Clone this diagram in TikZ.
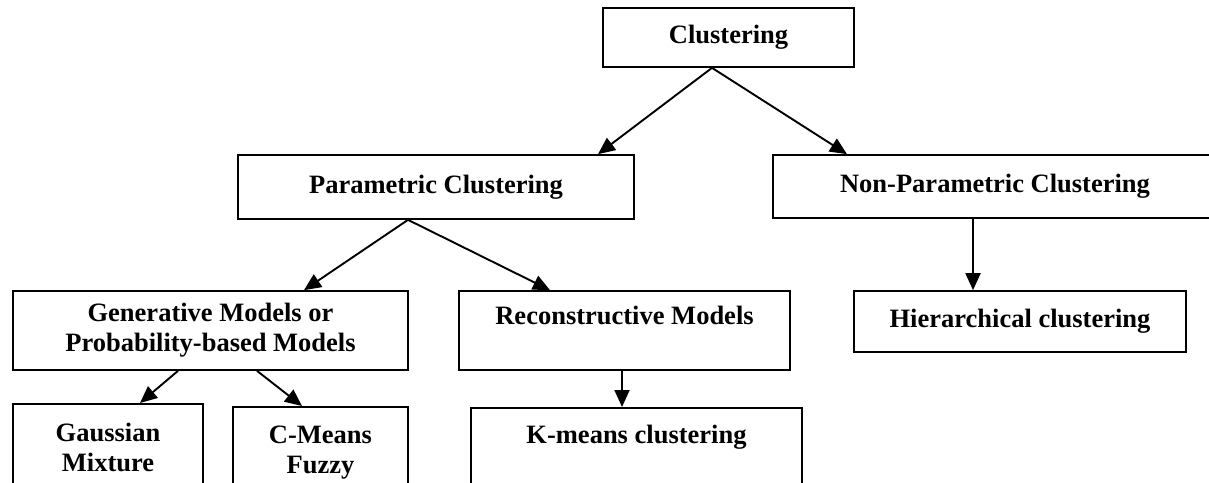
\documentclass[tikz,border=0pt]{standalone}
\usepackage{fontspec}
\setmainfont{Liberation Serif}
\usetikzlibrary{arrows.meta}

\begin{document}
\begin{tikzpicture}[x=1pt,y=-1pt,
    box/.style={draw,line width=1.7pt,align=center,inner xsep=0pt,inner ysep=0pt,
      font=\bfseries\fontsize{26.5}{30}\selectfont},
    link/.style={-{Triangle[length=17pt,width=15pt]},line width=1.9pt}]
    \useasboundingbox (0,0) rectangle (1209,482);
    \clip (0,0) rectangle (1209,482);
    % top levels
    \node[box,minimum width=251pt,minimum height=59pt] (clust) at (728.5,37.5) {Clustering};
    \node[box,minimum width=396pt,minimum height=64pt] (param) at (436,187) {Parametric Clustering};
    \node[box,minimum width=444pt,minimum height=63pt] (nonpar) at (995,186.5) {Non-Parametric Clustering};
    \node[box,minimum width=395pt,minimum height=79pt] (gen) at (210.5,330.5) {Generative Models or\\Probability-based Models};
    \node[box,minimum width=331pt,minimum height=79pt,text depth=30pt] (recon) at (624.5,330.5) {Reconstructive Models};
    \node[box,minimum width=332pt,minimum height=61pt] (hier) at (1020,321.5) {Hierarchical clustering};
    % bottom boxes, cut by the page edge
    \node[box,anchor=north,minimum width=190pt,inner ysep=19pt,text depth=90pt] (gauss) at (108,403) {Gaussian\\Mixture};
    \node[box,anchor=north,minimum width=175pt,inner ysep=19pt,text depth=90pt] (cmeans) at (320.5,406) {C-Means\\Fuzzy};
    \node[box,anchor=north,minimum width=331pt,inner ysep=17pt,text depth=90pt] (kmeans) at (636.5,407) {K-means clustering};
    % arrows
    \draw[link] ([xshift=-16.5pt]clust.south) -- ([xshift=162pt]param.north);
    \draw[link] ([xshift=-16.5pt]clust.south) -- ([xshift=-148pt]nonpar.north);
    \draw[link] ([xshift=-28pt]param.south) -- ([xshift=93.5pt]gen.north);
    \draw[link] ([xshift=-28pt]param.south) -- ([xshift=-74.5pt]recon.north);
    \draw[link] ([xshift=-22pt]nonpar.south) -- ([xshift=-47pt]hier.north);
    \draw[link] ([xshift=-32.5pt]gen.south) -- ([xshift=32pt]gauss.north);
    \draw[link] ([xshift=46.5pt]gen.south) -- ([xshift=-18.5pt]cmeans.north);
    \draw[link] ([xshift=-2.5pt]recon.south) -- ([xshift=-14.5pt]kmeans.north);
\end{tikzpicture}
\end{document}
